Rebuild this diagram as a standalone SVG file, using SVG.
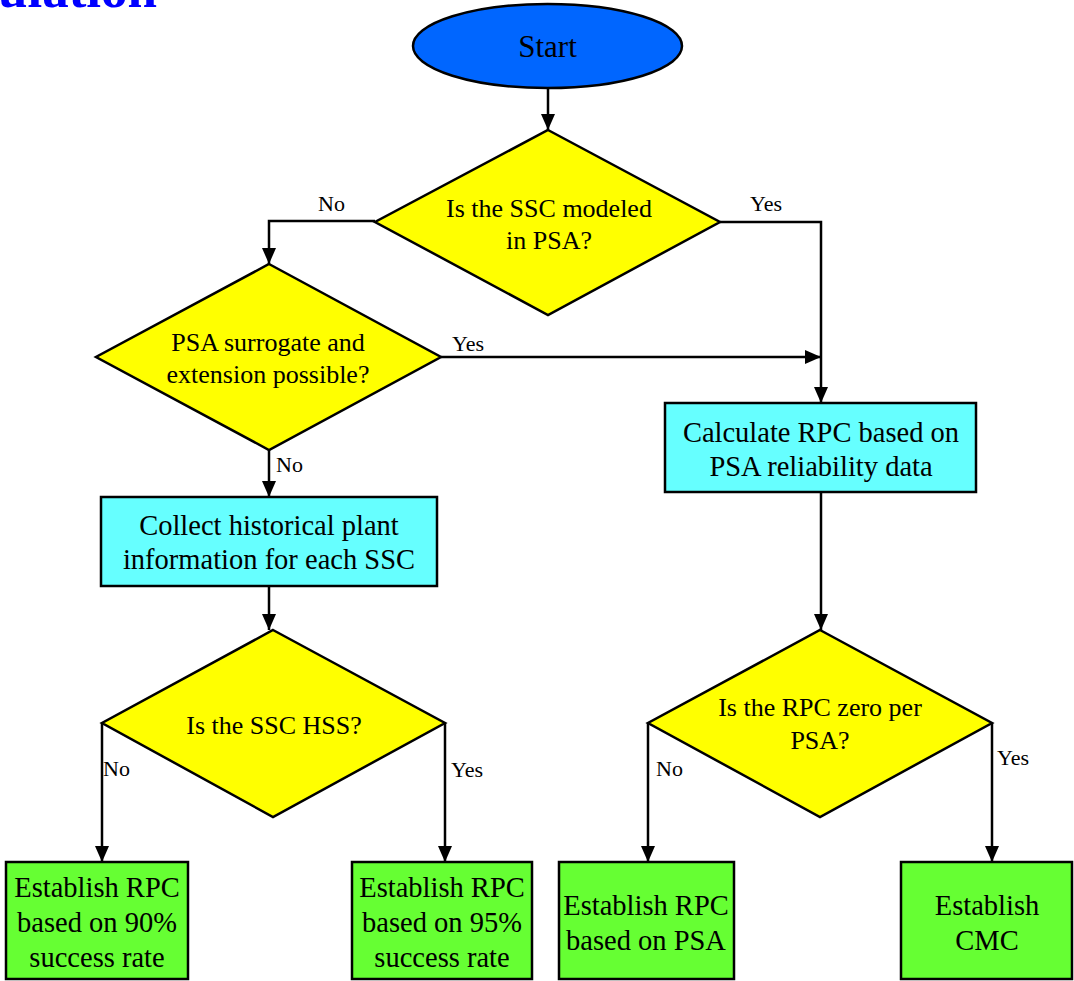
<svg xmlns="http://www.w3.org/2000/svg" width="1074" height="981" viewBox="0 0 1074 981">
  <style>
    text { font-family: "Liberation Serif", "Times New Roman", serif; fill: #000; }
    .title { font-size: 53px; font-weight: bold; fill: #0000FF; }
    .start { fill: #0066FF; stroke: #000; stroke-width: 2.5; }
    .dec { fill: #FFFF00; stroke: #000; stroke-width: 2.5; stroke-linejoin: miter; }
    .proc { fill: #66FFFF; stroke: #000; stroke-width: 2.5; }
    .end { fill: #66FF33; stroke: #000; stroke-width: 2.5; }
    .t-start { font-size: 31px; text-anchor: middle; }
    .t-dec { font-size: 26px; text-anchor: middle; }
    .t-box { font-size: 28.5px; text-anchor: middle; }
    .lbl { font-size: 22px; }
    .wire { fill: none; stroke: #000; stroke-width: 2.5; }
  </style>
  <defs>
    <marker id="arrow" viewBox="0 0 16 14" refX="16" refY="7" markerWidth="16" markerHeight="14" markerUnits="userSpaceOnUse" orient="auto">
      <path d="M0,0 L16,7 L0,14 Z" fill="#000"/>
    </marker>
  </defs>

  <!-- heading runs off the top edge of the page -->
  <text class="title" x="-2" y="7">ulation</text>

  <!-- connectors -->
  <g id="connectors">
    <path class="wire" d="M548,88 V130" marker-end="url(#arrow)"/>
    <path class="wire" d="M375,221 H269 V264" marker-end="url(#arrow)"/>
    <path class="wire" d="M720,222 H821 V403" marker-end="url(#arrow)"/>
    <path class="wire" d="M441,357 H821" marker-end="url(#arrow)"/>
    <path class="wire" d="M269,450 V497" marker-end="url(#arrow)"/>
    <path class="wire" d="M269,586 V630" marker-end="url(#arrow)"/>
    <path class="wire" d="M102,723 V862" marker-end="url(#arrow)"/>
    <path class="wire" d="M445,723 V862" marker-end="url(#arrow)"/>
    <path class="wire" d="M821,492 V630" marker-end="url(#arrow)"/>
    <path class="wire" d="M648,723 V862" marker-end="url(#arrow)"/>
    <path class="wire" d="M992,723 V862" marker-end="url(#arrow)"/>

    <text class="lbl" x="318" y="211">No</text>
    <text class="lbl" x="750" y="211">Yes</text>
    <text class="lbl" x="452" y="351">Yes</text>
    <text class="lbl" x="276" y="472">No</text>
    <text class="lbl" x="103" y="776">No</text>
    <text class="lbl" x="451" y="777">Yes</text>
    <text class="lbl" x="656" y="776">No</text>
    <text class="lbl" x="997" y="765">Yes</text>
  </g>

  <g id="start">
    <ellipse class="start" cx="547.5" cy="46" rx="134.5" ry="42"/>
    <text class="t-start" x="547.5" y="57">Start</text>
  </g>

  <g id="q-modeled">
    <polygon class="dec" points="548,130 720,222 548,315 375,222"/>
    <text class="t-dec" x="549" y="217">Is the SSC modeled</text>
    <text class="t-dec" x="549" y="249">in PSA?</text>
  </g>

  <g id="q-surrogate">
    <polygon class="dec" points="269,264 441,357 269,450 96,357"/>
    <text class="t-dec" x="268" y="351">PSA surrogate and</text>
    <text class="t-dec" x="268" y="383">extension possible?</text>
  </g>

  <g id="collect">
    <rect class="proc" x="101" y="497" width="336" height="89"/>
    <text class="t-box" x="269" y="535">Collect historical plant</text>
    <text class="t-box" x="269" y="569">information for each SSC</text>
  </g>

  <g id="calculate">
    <rect class="proc" x="665" y="403" width="311" height="89"/>
    <text class="t-box" x="821" y="442">Calculate RPC based on</text>
    <text class="t-box" x="821" y="476">PSA reliability data</text>
  </g>

  <g id="q-hss">
    <polygon class="dec" points="273,630 445,723 273,817 102,723"/>
    <text class="t-dec" x="274" y="734">Is the SSC HSS?</text>
  </g>

  <g id="q-zero">
    <polygon class="dec" points="820,630 992,723 820,817 648,723"/>
    <text class="t-dec" x="820" y="716">Is the RPC zero per</text>
    <text class="t-dec" x="820" y="749">PSA?</text>
  </g>

  <g id="rpc-90">
    <rect class="end" x="6" y="862" width="182" height="117"/>
    <text class="t-box" x="97" y="897">Establish RPC</text>
    <text class="t-box" x="97" y="932">based on 90%</text>
    <text class="t-box" x="97" y="967">success rate</text>
  </g>

  <g id="rpc-95">
    <rect class="end" x="352" y="862" width="180" height="117"/>
    <text class="t-box" x="442" y="897">Establish RPC</text>
    <text class="t-box" x="442" y="932">based on 95%</text>
    <text class="t-box" x="442" y="967">success rate</text>
  </g>

  <g id="rpc-psa">
    <rect class="end" x="559" y="862" width="175" height="117"/>
    <text class="t-box" x="646" y="915">Establish RPC</text>
    <text class="t-box" x="646" y="950">based on PSA</text>
  </g>

  <g id="cmc">
    <rect class="end" x="901" y="862" width="171" height="117"/>
    <text class="t-box" x="987" y="915">Establish</text>
    <text class="t-box" x="987" y="950">CMC</text>
  </g>
</svg>
